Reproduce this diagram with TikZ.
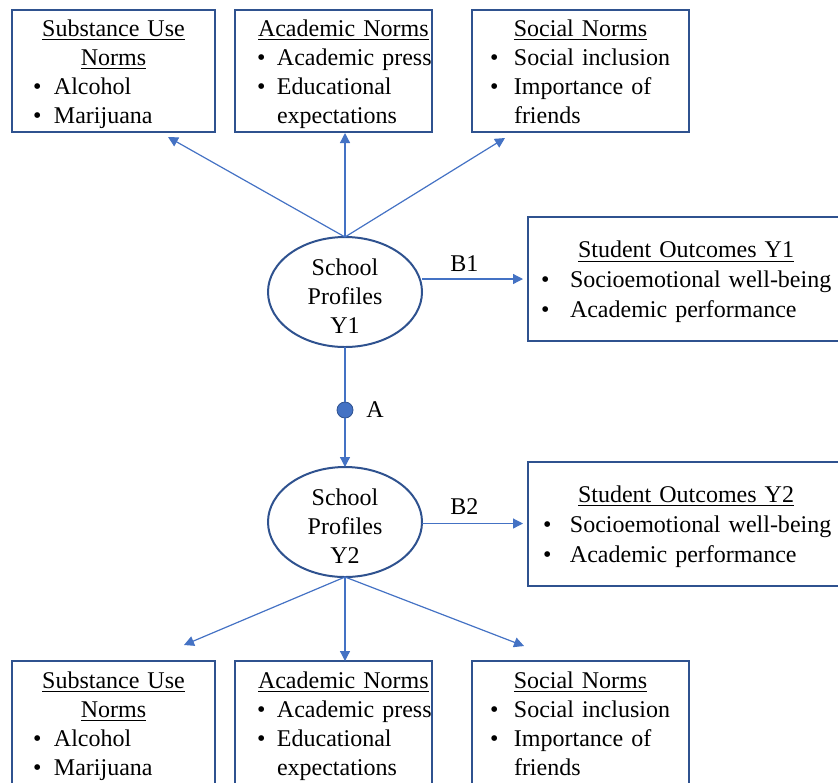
\documentclass[tikz,border=0pt]{standalone}
\usepackage{fontspec,xcolor,tikz}
\setmainfont{Liberation Serif}
\usetikzlibrary{arrows.meta,positioning,shapes.geometric}
\definecolor{boxblue}{RGB}{47,82,143}
\definecolor{arrblue}{RGB}{68,114,196}
\newcommand{\hd}[1]{\makebox[\linewidth]{\underline{#1}}}
\newcommand{\bul}[1][10pt]{\hspace*{#1}\makebox[\dimexpr21pt-#1\relax][l]{\textbullet}}
\newcommand{\cont}{\hspace*{21pt}}

\begin{document}
\begin{tikzpicture}[x=1pt,y=1pt,
  every node/.style={font=\fontsize{12}{14.5}\selectfont},
  normbox/.style={draw=boxblue,line width=1pt,inner sep=0pt,minimum height=61pt,align=left,outer sep=0pt,text height=11.5pt},
  outbox/.style={normbox,minimum height=62pt,text width=158pt,font=\fontsize{12}{15}\selectfont},
  profile/.style={draw=boxblue,line width=1pt,ellipse,inner xsep=0pt,inner ysep=-2pt,text height=41.3pt,minimum width=77pt,minimum height=55pt,align=center,outer sep=0pt},
  arr/.style={draw=arrblue,line width=0.6pt,-{Triangle[length=5pt,width=5pt]}}]
\useasboundingbox (0,0) rectangle (419,-391);
% school profiles
\node[profile] (prof1) at (172.5,-146) {School\\Profiles\\Y1};
\node[profile] (prof2) at (172.5,-261) {School\\Profiles\\Y2};
\node[circle,fill=arrblue,draw=boxblue,line width=0.4pt,inner sep=0pt,minimum size=8pt,
  label={[label distance=3pt]right:A}] (adot) at (172.5,-205) {};
% norms, year 1
\node[normbox,text width=98.5pt] (acadtop) at (166.75,-35.5)
  {\hspace*{11.5pt}\underline{Academic Norms}\\\bul[11pt]Academic press\\\bul[11pt]Educational\\\cont expectations};
\node[normbox,text width=101.5pt,left=10pt of acadtop] (subtop)
  {\hd{Substance Use}\\\hd{Norms}\\\bul[10.5pt]Alcohol\\\bul[10.5pt]Marijuana};
\node[normbox,text width=108.5pt,right=20pt of acadtop] (soctop)
  {\hd{Social Norms}\\\bul[9pt]Social inclusion\\\bul[9pt]Importance of\\\cont friends\vphantom{p}};
% norms, year 2
\node[normbox,text width=98.5pt,minimum height=62pt] (acadbot) at (166.75,-361.5)
  {\hspace*{11.5pt}\underline{Academic Norms}\\\bul[11pt]Academic press\\\bul[11pt]Educational\\\cont expectations};
\node[normbox,text width=101.5pt,minimum height=62pt,left=10pt of acadbot] (subbot)
  {\hd{Substance Use}\\\hd{Norms}\\\bul[10.5pt]Alcohol\\\bul[10.5pt]Marijuana};
\node[normbox,text width=108.5pt,minimum height=62pt,right=20pt of acadbot] (socbot)
  {\hd{Social Norms}\\\bul[9pt]Social inclusion\\\bul[9pt]Importance of\\\cont friends\vphantom{p}};
% outcomes
\node[outbox] (out1) at (343,-139.5)
  {\hd{Student Outcomes Y1}\\\bul[6.5pt]Socioemotional well-being\\\bul[6.5pt]Academic performance};
\node[outbox] (out2) at (343,-261.75)
  {\hd{Student Outcomes Y2}\\\bul[7.5pt]Socioemotional well-being\\\bul[7.5pt]Academic performance};
% arrow ends
\coordinate (subtip1) at (84,-68.5);
\coordinate (soctip1) at (252.5,-69);
\coordinate (subtip2) at (92,-322.5);
\coordinate (soctip2) at (262,-323);
\draw[arr] (prof1.north) -- (subtip1);
\draw[arr,shorten >=0.5pt] (prof1.north) -- (prof1.north |- acadtop.south);
\draw[arr] (prof1.north) -- (soctip1);
\draw[arr] (prof2.south) -- (subtip2);
\draw[arr] (prof2.south) -- (prof2.south |- acadbot.north);
\draw[arr] (prof2.south) -- (soctip2);
\draw[arr,shorten >=2.5pt] (prof1.east |- out1.west) -- node[above,pos=0.4]{B1} (out1.west);
\draw[arr,shorten >=2.5pt] (prof2.east |- out2.west) -- node[above,pos=0.4,yshift=1pt]{B2} (out2.west);
\draw[draw=arrblue,line width=0.6pt] (prof1.south) -- (adot);
\draw[arr] (adot) -- (prof2.north);
\end{tikzpicture}
\end{document}
